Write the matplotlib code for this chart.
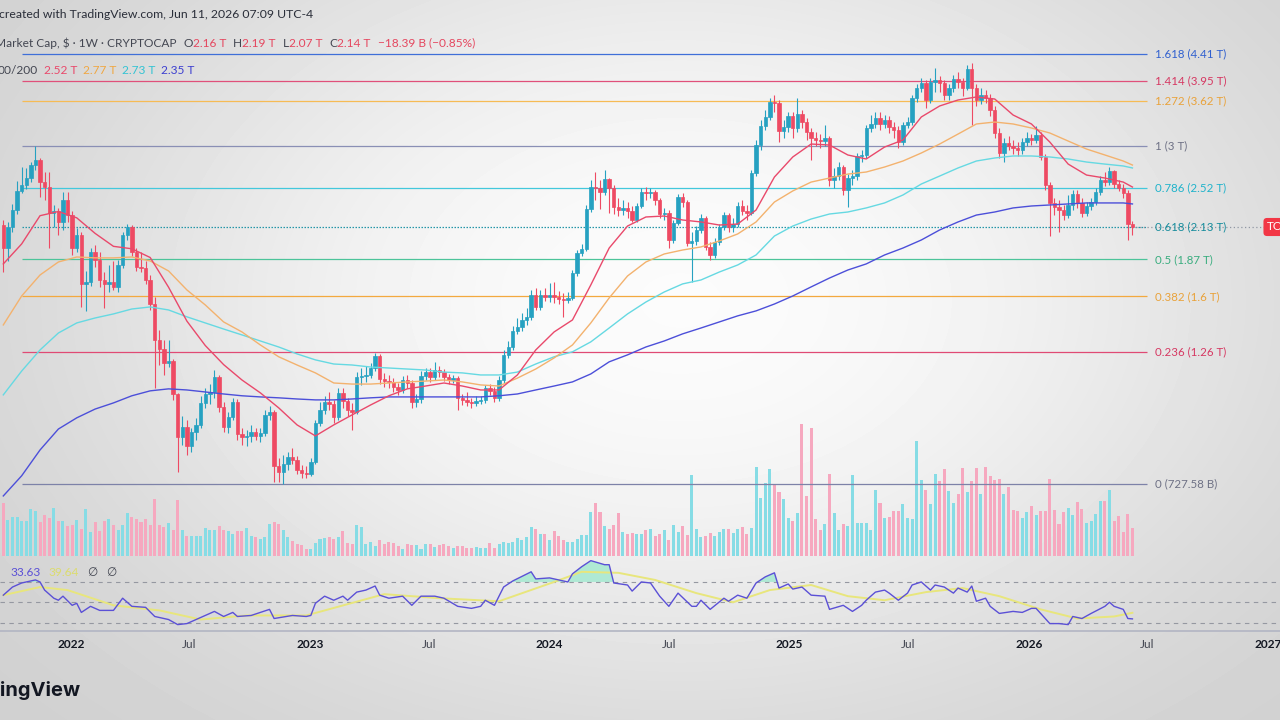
import numpy as np
import pandas as pd
import matplotlib
matplotlib.use("Agg")
import matplotlib.pyplot as plt
from matplotlib.offsetbox import TextArea, HPacker, AnnotationBbox

plt.rcParams['font.family'] = ['Lato', 'DejaVu Sans']

# Crypto total market cap, weekly candles (trillion USD), first week starts 2021-09-20
start = pd.Timestamp('2021-09-20')
first_open = 2.15
close = [
    1.96, 2.14, 2.29, 2.48, 2.55, 2.62, 2.77, 2.83, 2.58, 2.53,
    2.27, 2.28, 2.18, 2.39, 2.25, 1.96, 2.07, 1.68, 1.70, 1.92,
    1.86, 1.71, 1.68, 1.70, 1.66, 1.82, 2.07, 2.14, 1.92, 1.81,
    1.80, 1.71, 1.55, 1.33, 1.28, 1.21, 1.22, 1.06, 0.886, 0.924,
    0.853, 0.905, 0.932, 1.022, 1.061, 1.070, 1.139, 1.005, 0.924, 0.964,
    1.026, 0.898, 0.886, 0.890, 0.905, 0.890, 0.901, 0.972, 0.984, 0.785,
    0.766, 0.791, 0.815, 0.805, 0.772, 0.762, 0.759, 0.798, 0.940, 0.992,
    1.026, 1.017, 0.964, 1.066, 1.031, 0.992, 0.984, 1.139, 1.144, 1.149,
    1.183, 1.245, 1.130, 1.120, 1.116, 1.093, 1.079, 1.125, 1.111, 1.026,
    1.039, 1.144, 1.163, 1.139, 1.173, 1.163, 1.139, 1.125, 1.134, 1.044,
    1.035, 1.026, 1.022, 1.031, 1.035, 1.088, 1.075, 1.044, 1.125, 1.250,
    1.292, 1.381, 1.405, 1.447, 1.466, 1.607, 1.528, 1.607, 1.593, 1.607,
    1.593, 1.580, 1.573, 1.587, 1.762, 1.916, 1.948, 2.304, 2.526, 2.516,
    2.474, 2.612, 2.516, 2.323, 2.294, 2.314, 2.284, 2.200, 2.333, 2.474,
    2.464, 2.474, 2.392, 2.256, 2.265, 2.023, 2.172, 2.423, 2.372, 1.998,
    2.015, 2.110, 2.218, 1.965, 1.900, 2.006, 2.136, 2.246, 2.136, 2.163,
    2.333, 2.284, 2.265, 2.679, 3.012, 3.262, 3.388, 3.608, 3.593, 3.195,
    3.249, 3.402, 3.235, 3.430, 3.317, 3.181, 3.102, 3.076, 3.063, 3.102,
    2.601, 2.645, 2.747, 2.495, 2.623, 2.645, 2.877, 2.889, 3.235, 3.290,
    3.373, 3.290, 3.345, 3.249, 3.208, 3.050, 3.276, 3.317, 3.669, 3.826,
    3.907, 3.638, 3.923, 3.956, 3.907, 3.715, 3.826, 3.973, 3.923, 3.826,
    4.143, 3.826, 3.638, 3.715, 3.669, 3.488, 3.168, 2.913, 3.038, 3.000,
    2.975, 2.950, 3.050, 3.102, 3.076, 3.141, 2.865, 2.547, 2.363, 2.323,
    2.294, 2.246, 2.343, 2.453, 2.363, 2.265, 2.333, 2.372, 2.474, 2.601,
    2.579, 2.702, 2.558, 2.516, 2.464, 2.16, 2.14,
]
high = [
    2.20, 2.18, 2.35, 2.59, 2.75, 2.74, 2.81, 3.00, 2.85, 2.69,
    2.69, 2.34, 2.31, 2.47, 2.47, 2.28, 2.13, 2.09, 1.78, 1.96,
    1.98, 1.92, 1.77, 1.82, 1.85, 1.86, 2.09, 2.16, 2.15, 1.96,
    1.92, 1.85, 1.75, 1.59, 1.39, 1.33, 1.33, 1.23, 1.066, 0.968,
    0.952, 0.920, 0.960, 1.053, 1.088, 1.106, 1.173, 1.149, 1.026, 0.984,
    1.044, 1.039, 0.920, 0.912, 0.932, 0.920, 0.920, 0.992, 1.009, 0.992,
    0.812, 0.822, 0.832, 0.846, 0.819, 0.788, 0.785, 0.812, 0.952, 1.026,
    1.053, 1.070, 1.035, 1.088, 1.088, 1.044, 1.022, 1.163, 1.183, 1.193,
    1.208, 1.260, 1.255, 1.158, 1.149, 1.134, 1.111, 1.144, 1.149, 1.125,
    1.061, 1.168, 1.183, 1.183, 1.214, 1.193, 1.178, 1.154, 1.149, 1.144,
    1.061, 1.070, 1.044, 1.053, 1.053, 1.102, 1.106, 1.093, 1.144, 1.276,
    1.325, 1.411, 1.459, 1.490, 1.522, 1.641, 1.655, 1.641, 1.655, 1.690,
    1.697, 1.634, 1.620, 1.627, 1.784, 1.940, 1.990, 2.343, 2.601, 2.690,
    2.601, 2.713, 2.623, 2.547, 2.412, 2.392, 2.372, 2.333, 2.363, 2.516,
    2.526, 2.516, 2.495, 2.412, 2.314, 2.294, 2.200, 2.453, 2.464, 2.392,
    2.092, 2.145, 2.256, 2.237, 2.006, 2.040, 2.163, 2.275, 2.265, 2.218,
    2.372, 2.392, 2.343, 2.713, 3.076, 3.345, 3.488, 3.669, 3.715, 3.638,
    3.345, 3.459, 3.459, 3.669, 3.488, 3.373, 3.235, 3.181, 3.154, 3.276,
    3.128, 2.736, 2.805, 2.770, 2.667, 2.713, 2.913, 2.950, 3.276, 3.416,
    3.459, 3.459, 3.416, 3.402, 3.317, 3.262, 3.317, 3.388, 3.715, 3.890,
    3.990, 3.956, 3.990, 4.160, 4.023, 3.956, 3.890, 4.040, 4.091, 3.990,
    4.213, 4.249, 3.890, 3.826, 3.794, 3.731, 3.548, 3.235, 3.102, 3.128,
    3.076, 3.050, 3.102, 3.181, 3.154, 3.262, 3.181, 2.901, 2.579, 2.412,
    2.392, 2.343, 2.443, 2.495, 2.495, 2.412, 2.372, 2.412, 2.516, 2.645,
    2.690, 2.747, 2.713, 2.601, 2.558, 2.495, 2.19,
]
low = [
    1.77, 1.85, 2.09, 2.26, 2.46, 2.50, 2.58, 2.71, 2.42, 2.39,
    1.96, 2.14, 2.07, 2.11, 2.18, 1.90, 1.92, 1.53, 1.50, 1.67,
    1.81, 1.66, 1.52, 1.63, 1.64, 1.63, 1.80, 2.02, 1.89, 1.78,
    1.77, 1.68, 1.51, 1.088, 1.20, 1.15, 1.19, 1.035, 0.766, 0.857,
    0.822, 0.832, 0.875, 0.920, 1.001, 1.017, 1.044, 0.984, 0.905, 0.901,
    0.952, 0.875, 0.857, 0.853, 0.868, 0.875, 0.868, 0.890, 0.952, 0.734,
    0.734, 0.7276, 0.772, 0.791, 0.759, 0.746, 0.746, 0.753, 0.791, 0.928,
    0.976, 0.992, 0.940, 0.952, 1.001, 0.968, 0.912, 0.976, 1.102, 1.116,
    1.134, 1.168, 1.106, 1.093, 1.088, 1.070, 1.057, 1.066, 1.088, 1.001,
    1.005, 1.022, 1.125, 1.116, 1.125, 1.139, 1.120, 1.106, 1.111, 0.992,
    1.013, 1.009, 1.001, 1.009, 1.017, 1.022, 1.057, 1.026, 1.031, 1.111,
    1.234, 1.276, 1.365, 1.381, 1.417, 1.447, 1.509, 1.509, 1.567, 1.560,
    1.554, 1.547, 1.466, 1.554, 1.573, 1.740, 1.892, 1.932, 2.275, 2.392,
    2.304, 2.443, 2.265, 2.256, 2.237, 2.246, 2.218, 2.182, 2.182, 2.314,
    2.392, 2.412, 2.343, 2.218, 2.200, 1.956, 1.998, 2.154, 2.323, 1.973,
    1.697, 1.981, 2.084, 1.940, 1.861, 1.877, 1.981, 2.110, 2.092, 2.092,
    2.136, 2.246, 2.200, 2.246, 2.645, 2.950, 3.208, 3.345, 3.459, 3.050,
    3.102, 3.181, 3.102, 3.181, 3.235, 3.076, 2.829, 3.000, 2.975, 3.000,
    2.537, 2.516, 2.601, 2.443, 2.323, 2.547, 2.601, 2.805, 2.853, 3.181,
    3.235, 3.208, 3.235, 3.168, 3.102, 2.975, 3.012, 3.235, 3.276, 3.608,
    3.762, 3.518, 3.593, 3.762, 3.762, 3.638, 3.638, 3.762, 3.826, 3.700,
    3.794, 3.276, 3.548, 3.578, 3.593, 3.402, 3.102, 2.853, 2.805, 2.950,
    2.901, 2.877, 2.901, 3.000, 3.012, 3.038, 2.829, 2.495, 2.058, 2.246,
    2.092, 2.200, 2.218, 2.294, 2.314, 2.228, 2.237, 2.294, 2.343, 2.443,
    2.537, 2.547, 2.516, 2.485, 2.412, 2.023, 2.07,
]
# weekly volume (relative units, read as bar heights)
volume = [
    159, 107, 117, 117, 104, 104, 140, 135, 102, 124,
    115, 145, 104, 104, 89, 92, 107, 80, 142, 72,
    102, 75, 105, 110, 92, 77, 92, 129, 117, 110,
    102, 110, 92, 172, 92, 87, 100, 79, 167, 79,
    59, 59, 59, 60, 84, 77, 77, 89, 79, 75,
    67, 74, 75, 85, 60, 57, 52, 57, 97, 102,
    97, 77, 57, 44, 37, 32, 22, 22, 40, 52,
    55, 57, 50, 57, 74, 40, 35, 94, 87, 35,
    42, 30, 47, 35, 42, 40, 30, 22, 37, 32,
    32, 22, 37, 37, 27, 32, 35, 29, 25, 29,
    29, 25, 25, 27, 25, 25, 40, 25, 37, 42,
    40, 42, 54, 49, 57, 87, 82, 67, 67, 49,
    74, 60, 49, 42, 42, 52, 64, 62, 132, 159,
    132, 89, 80, 92, 129, 72, 65, 70, 65, 67,
    77, 82, 59, 65, 79, 49, 92, 72, 89, 64,
    242, 80, 57, 59, 70, 59, 72, 82, 80, 69,
    82, 87, 67, 85, 267, 175, 217, 259, 212, 192,
    170, 115, 105, 129, 395, 180, 382, 112, 79, 97,
    244, 130, 79, 97, 89, 242, 99, 100, 100, 77,
    197, 159, 114, 117, 135, 135, 157, 114, 112, 344,
    227, 197, 157, 245, 225, 260, 195, 159, 187, 262,
    192, 225, 262, 187, 265, 239, 227, 229, 185, 207,
    139, 135, 114, 132, 149, 122, 135, 135, 229, 137,
    97, 132, 145, 124, 162, 142, 99, 104, 125, 165,
    164, 197, 105, 119, 72, 125, 84,
]

# moving averages (20/50/100/200), sampled every 4 weeks
ma_weeks = list(range(0, 245, 4)) + [246]
ma20 = [1.83, 1.99, 2.24, 2.28, 2.22, 2.08, 1.97, 1.95, 1.88, 1.66, 1.44, 1.30, 1.20,
        1.125, 1.066, 1.001, 0.932, 0.890, 0.932, 0.972, 1.013, 1.053, 1.084, 1.097,
        1.111, 1.097, 1.079, 1.079, 1.149, 1.276, 1.376, 1.447, 1.676, 1.956, 2.145,
        2.228, 2.237, 2.200, 2.182, 2.154, 2.163, 2.294, 2.634, 2.865, 3.025, 3.012,
        2.889, 2.841, 2.987, 3.076, 3.388, 3.548, 3.638, 3.684, 3.653, 3.416, 3.290,
        3.050, 2.781, 2.656, 2.623, 2.579, 2.526]
ma50 = [1.417, 1.60, 1.747, 1.845, 1.884, 1.877, 1.877, 1.884, 1.853, 1.777, 1.641,
        1.541, 1.435, 1.376, 1.303, 1.240, 1.198, 1.159, 1.111, 1.106, 1.106, 1.111,
        1.116, 1.120, 1.125, 1.116, 1.102, 1.097, 1.134, 1.178, 1.234, 1.303, 1.429,
        1.587, 1.740, 1.845, 1.908, 1.940, 1.965, 2.015, 2.075, 2.182, 2.372, 2.485,
        2.579, 2.623, 2.667, 2.690, 2.747, 2.817, 2.913, 3.025, 3.154, 3.290, 3.317,
        3.290, 3.235, 3.168, 3.063, 2.962, 2.889, 2.817, 2.770]
ma100 = [1.057, 1.168, 1.276, 1.370, 1.429, 1.459, 1.484, 1.515, 1.528, 1.509, 1.466,
         1.429, 1.393, 1.359, 1.325, 1.292, 1.255, 1.224, 1.203, 1.198, 1.188, 1.183,
         1.178, 1.173, 1.163, 1.159, 1.149, 1.149, 1.163, 1.203, 1.240, 1.266, 1.320,
         1.399, 1.484, 1.560, 1.627, 1.683, 1.711, 1.769, 1.822, 1.900, 2.057, 2.145,
         2.209, 2.256, 2.275, 2.314, 2.363, 2.443, 2.558, 2.645, 2.736, 2.817, 2.853,
         2.877, 2.877, 2.865, 2.841, 2.805, 2.781, 2.759, 2.736]
ma200 = [0.692, 0.753, 0.839, 0.916, 0.960, 0.996, 1.022, 1.053, 1.075, 1.084, 1.079,
         1.070, 1.061, 1.053, 1.048, 1.044, 1.039, 1.035, 1.035, 1.039, 1.044, 1.048,
         1.048, 1.048, 1.048, 1.048, 1.048, 1.053, 1.061, 1.079, 1.097, 1.116, 1.154,
         1.214, 1.250, 1.292, 1.325, 1.365, 1.399, 1.435, 1.472, 1.503, 1.547, 1.600,
         1.662, 1.725, 1.784, 1.830, 1.900, 1.956, 2.023, 2.110, 2.182, 2.246, 2.275,
         2.314, 2.333, 2.343, 2.353, 2.363, 2.363, 2.363, 2.353]

# RSI and its moving average
rsi_weeks = [0, 2, 4, 7, 8, 9, 11, 12, 13, 15, 16, 17, 19, 21, 24, 26, 28, 31, 33, 36,
             38, 40, 44, 46, 48, 50, 51, 54, 58, 59, 63, 66, 67, 68, 70, 72, 74, 75, 77, 79,
             81, 82, 84, 87, 89, 91, 94, 96, 99, 102, 104, 105, 107, 109, 111, 115, 116,
             119, 123, 124, 126, 128, 131, 132, 133, 136, 137, 139, 141, 143, 145, 147,
             150, 151, 152, 154, 157, 158, 160, 162, 164, 166, 168, 169, 171, 172, 174,
             176, 179, 180, 183, 185, 187, 188, 190, 192, 193, 195, 197, 198, 200, 202,
             203, 205, 207, 208, 210, 211, 212, 214, 215, 217, 220, 222, 224, 225, 228,
             230, 232, 233, 235, 237, 240, 241, 242, 244, 245, 246]
rsi = [57, 65, 69, 72, 70, 62, 54, 52, 56, 47, 49, 40, 46, 42, 42, 54, 46, 45, 36, 33,
       28, 29, 37, 41, 36, 40, 36, 37, 43, 34, 37, 36, 37, 49, 56, 52, 56, 52, 60, 62,
       66, 57, 54, 56, 47, 56, 56, 54, 46, 44, 46, 52, 47, 65, 71, 80, 73, 74, 70, 78,
       85, 91, 87, 87, 69, 67, 61, 70, 69, 56, 46, 59, 46, 46, 52, 43, 54, 51, 57, 54,
       69, 75, 79, 64, 68, 63, 65, 57, 56, 43, 47, 41, 47, 52, 60, 62, 59, 52, 59, 67,
       70, 62, 67, 65, 59, 64, 60, 66, 51, 54, 46, 39, 41, 40, 44, 44, 29, 29, 28, 36,
       34, 39, 46, 50, 46, 43, 34, 33.63]
rsi_ma_weeks = [0, 8, 14, 24, 34, 43, 53, 66, 83, 95, 108, 120, 126, 134, 142, 151, 159,
                167, 176, 184, 192, 201, 209, 217, 226, 234, 242, 246]
rsi_ma = [57, 65, 62, 47, 42, 33, 37, 37, 58, 54, 51, 70, 80, 79, 72, 59, 50, 62, 67, 56,
          52, 60, 64, 56, 43, 34, 36, 39.64]

# fibonacci retracement between Nov 2022 low and Nov 2021 high
fib_low, fib_high = 0.72758, 3.004
fib_ratios = [1.618, 1.414, 1.272, 1, 0.786, 0.618, 0.5, 0.382, 0.236, 0]
fib_labels = ['1.618 (4.41 T)', '1.414 (3.95 T)', '1.272 (3.62 T)', '1 (3 T)',
              '0.786 (2.52 T)', '0.618 (2.13 T)', '0.5 (1.87 T)', '0.382 (1.6 T)',
              '0.236 (1.26 T)', '0 (727.58 B)']
fib_line_colors = ['#3f6fd8', '#e0507a', '#f6bb55', '#8a8fb5', '#43c8dc', '#2596a8',
                   '#4cc49a', '#f3a93f', '#e04a74', '#7d82a8']
fib_text_colors = ['#2f5fcf', '#d63862', '#e9a23a', '#6e7185', '#20b3cb', '#178c9c',
                   '#3aad7f', '#e9a23a', '#d63862', '#6e7185']

tick_dates = ['2022-01-01', '2022-07-01', '2023-01-01', '2023-07-01', '2024-01-01',
              '2024-07-01', '2025-01-01', '2025-07-01', '2026-01-01', '2026-07-01',
              '2027-01-01']
tick_labels = ['2022', 'Jul', '2023', 'Jul', '2024', 'Jul', '2025', 'Jul', '2026', 'Jul', '2027']

UP, DOWN = '#26a1c1', '#ee4a63'
VOL_UP, VOL_DOWN = '#86dce5', '#f6a8bf'
GRAY, RED = '#434651', '#e5475f'

W, H = 1280, 720
bar_px, first_px = 4.59, 3.3          # pixel spacing of weekly bars
xlim = (-first_px / bar_px, (W - first_px) / bar_px)


def rect(top, bottom):
    return [0, 1 - bottom / H, 1, (bottom - top) / H]


def week_at(px):
    return (px - first_px) / bar_px


fig = plt.figure(figsize=(W / 100, H / 100), dpi=100)

# soft vignette background
bg = fig.add_axes([0, 0, 1, 1], zorder=0)
yy, xx = np.mgrid[0:H, 0:W]
r2 = ((xx - 680) / 680) ** 2 + ((yy - 300) / 458) ** 2
shade = 0.985 - 0.135 * np.tanh(r2) / np.tanh(1)
bg.imshow(shade, cmap='gray', vmin=0, vmax=1, aspect='auto', interpolation='bilinear')
bg.axis('off')

n = len(close)
x = np.arange(n)
c = np.array(close)
o = np.r_[first_open, c[:-1]]
hi = np.maximum(np.array(high), np.maximum(o, c))
lo = np.minimum(np.array(low), np.minimum(o, c))
up = c >= o

# volume
vax = fig.add_axes(rect(0, 556), zorder=1)
vax.patch.set_alpha(0)
vax.bar(x, volume, width=0.66, color=np.where(up, VOL_UP, VOL_DOWN), linewidth=0)
vax.set_xlim(xlim)
vax.set_ylim(0, max(volume) * 556 / 132)
vax.axis('off')

# price pane
ax = fig.add_axes(rect(0, 556), zorder=2)
ax.patch.set_alpha(0)
ax.set_yscale('log')
ax.set_xlim(xlim)
ax.set_ylim(0.538, 5.532)
ax.axis('off')

fib_vals = [fib_low + r * (fib_high - fib_low) for r in fib_ratios]
for val, lab, lc, tc, r in zip(fib_vals, fib_labels, fib_line_colors, fib_text_colors, fib_ratios):
    ls = (0, (1.2, 1.2)) if r == 0.618 else '-'
    ax.hlines(val, week_at(22), week_at(1147), color=lc, lw=0.9, ls=ls, zorder=2)
    ax.text(week_at(1155), val, lab, color=tc, fontsize=8.3, va='center', ha='left')

# last price line
ax.hlines(close[-1], x[-1], xlim[1], color='#9097a3', lw=0.9, ls=(0, (1, 2)), zorder=2)

colors = np.where(up, UP, DOWN)
ax.vlines(x, lo, hi, colors=colors, lw=0.8, zorder=4)
ax.bar(x, np.maximum(o, c) - np.minimum(o, c), bottom=np.minimum(o, c), width=0.74,
       color=colors, edgecolor=colors, linewidth=0.5, zorder=5)

ax.plot(ma_weeks, ma200, color='#4c4fd9', lw=1.0, zorder=6)
ax.plot(ma_weeks, ma100, color='#66d9e2', lw=1.0, zorder=6)
ax.plot(ma_weeks, ma50, color='#f3b26e', lw=1.0, zorder=6)
ax.plot(ma_weeks, ma20, color='#e9496b', lw=1.0, zorder=6)

# RSI pane
rax = fig.add_axes(rect(558, 631), zorder=2)
rax.patch.set_alpha(0)
rax.set_xlim(xlim)
rax.set_ylim(21.7, 93.6)
for lvl in (70, 50, 30):
    rax.axhline(lvl, color='#9598a1', lw=0.8, ls=(0, (4, 4)))
rv = np.array(rsi, dtype=float)
rax.fill_between(rsi_weeks, rv, 70, where=rv > 70, interpolate=True,
                 color='#a9e9d2', alpha=0.9, lw=0)
rax.plot(rsi_ma_weeks, rsi_ma, color='#e8e67c', lw=1.4)
rax.plot(rsi_weeks, rsi, color='#5b50d6', lw=1.0)
for s in ('top', 'left', 'right'):
    rax.spines[s].set_visible(False)
rax.spines['bottom'].set_color('#b2b5c3')
rax.spines['bottom'].set_linewidth(1.2)
rax.set_yticks([])
tick_pos = [(pd.Timestamp(d) - start).days / 7 for d in tick_dates]
rax.set_xticks(tick_pos)
rax.set_xticklabels(tick_labels)
rax.tick_params(axis='x', length=0, pad=6, labelsize=8.6)
for t in rax.get_xticklabels():
    if t.get_text() == 'Jul':
        t.set_color(GRAY)
    else:
        t.set_color('#131722')
        t.set_fontweight('bold')


def legend_row(px, py, groups, size=9, gap=5):
    boxes = []
    for group in groups:
        items = [TextArea(s, textprops=dict(color=col, fontsize=size)) for s, col in group]
        boxes.append(HPacker(children=items, align='baseline', pad=0, sep=0))
    row = HPacker(children=boxes, align='baseline', pad=0, sep=gap)
    fig.add_artist(AnnotationBbox(row, (px, H - py), xycoords='figure pixels',
                                  box_alignment=(0, 0.5), frameon=False, pad=0))


legend_row(-1, 15, [[('created with TradingView.com, Jun 11, 2026 07:09 UTC-4', '#2a2e39')]], size=8.8)
legend_row(-5, 43, [[('Market Cap, \\$ · 1W · CRYPTOCAP', GRAY)],
                    [('O', GRAY), ('2.16 T', RED)], [('H', GRAY), ('2.19 T', RED)],
                    [('L', GRAY), ('2.07 T', RED)], [('C', GRAY), ('2.14 T', RED)],
                    [('\u221218.39 B (\u22120.85%)', RED)]], size=8.6, gap=5)
legend_row(-2, 70, [[('00/200', GRAY)], [('2.52 T', '#e9496b')], [('2.77 T', '#f0a742')],
                    [('2.73 T', '#33c3d3')], [('2.35 T', '#3d3fd0')]], size=8.6, gap=4)
legend_row(10, 572, [[('33.63', '#5b50d6')], [('39.64', '#dcdc6e')],
                     [('\u2205', GRAY)], [('\u2205', GRAY)]], size=8.6, gap=6)

fig.text(1267 / W, 1 - 227 / H, 'TOTAL', color='white', fontsize=8.5, va='center', ha='left',
         bbox=dict(boxstyle='round,pad=0.3', fc='#f23645', ec='none'))
fig.text(80 / W, 1 - 690 / H, 'TradingView', ha='right', va='center', fontsize=14.5,
         fontweight='bold', color='#131722', family=['Inter', 'DejaVu Sans'])

fig.savefig('out.png', dpi=100)
